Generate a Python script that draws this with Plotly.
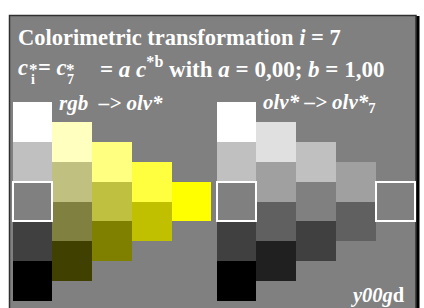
import plotly.graph_objects as go

W, H = 424, 308

# ---- data ----
columns = [0, 1, 2, 3, 4]
left_colors = [
    ["#000000", "#404040", "#808080", "#c0c0c0", "#ffffff"],
    ["#404000", "#808040", "#c0c080", "#ffffc0"],
    ["#808000", "#c0c040", "#ffff80"],
    ["#c0c000", "#ffff40"],
    ["#ffff00"],
]
right_colors = [
    ["#000000", "#404040", "#808080", "#c0c0c0", "#ffffff"],
    ["#202020", "#606060", "#a0a0a0", "#e0e0e0"],
    ["#404040", "#808080", "#c0c0c0"],
    ["#606060", "#a0a0a0"],
    ["#808080"],
]
# outlined cells: (column, row index from bottom)
left_outlined = [(0, 2)]
right_outlined = [(0, 2), (4, 0)]

panel_offsets = [0.0, 5.14]
BG = "#808080"
FONT = "Liberation Serif"

fig = go.Figure()


def add_panel(colors, outlined, offset):
    for c, col in zip(columns, colors):
        n = len(col)
        bases = [c * 0.5 + r for r in range(n)]
        fig.add_trace(go.Bar(
            x=[c + offset] * n, y=[1] * n, base=bases, width=[1] * n,
            marker=dict(color=col, line=dict(width=0)),
            hoverinfo="skip", showlegend=False))
    ox = [c + offset for c, r in outlined]
    ob = [c * 0.5 + r for c, r in outlined]
    fig.add_trace(go.Bar(
        x=ox, y=[1] * len(ox), base=ob, width=[1] * len(ox),
        marker=dict(color="rgba(0,0,0,0)", line=dict(width=2, color="white")),
        hoverinfo="skip", showlegend=False))


add_panel(left_colors, left_outlined, panel_offsets[0])
add_panel(right_colors, right_outlined, panel_offsets[1])

cell = 39.7
umin = -0.82
umax = umin + W / cell
vmin = -0.176
vmax = vmin + H / 39.8


def px(x):
    return x / W


def py(y):
    return 1 - y / H


shapes = [
    dict(type="rect", xref="paper", yref="paper", x0=px(415), x1=px(419.5),
         y0=py(330), y1=py(16), fillcolor="#000000", line=dict(width=0), layer="below"),
    dict(type="rect", xref="paper", yref="paper", x0=px(9.5), x1=px(416),
         y0=py(330), y1=py(15.5), fillcolor=BG, line=dict(width=1.5, color="#303030"),
         layer="below"),
]


def ann(text, x, baseline, fs):
    return dict(text=text, xref="paper", yref="paper", x=px(x), y=py(baseline - 0.34 * fs),
                xanchor="left", yanchor="middle", showarrow=False,
                font=dict(family=FONT, size=fs, color="white"), borderpad=0)


annotations = [
    ann("<b>Colorimetric transformation <i>i</i> = 7</b>", 17, 45, 22.5),
    ann("<b><i>c</i></b>", 17, 75, 22.5),
    ann("<b>*</b>", 28, 75, 17),
    ann("<b>i</b>", 29.5, 84, 14),
    ann("<b>= <i>c</i></b>", 37, 75, 22.5),
    ann("<b>*</b>", 64.5, 75, 17),
    ann("<b>7</b>", 66, 84, 14),
    ann("<b>= <i>a c</i><sup>*b</sup> with <i>a</i> = 0,00; <i>b</i> = 1,00</b>", 99, 75, 23),
    ann("<b><i>rgb&nbsp;&nbsp;–> olv*</i></b>", 58, 110, 21),
    ann("<b><i>olv* –> olv*</i><sub>7</sub></b>", 262, 110, 21),
    ann("<b><i>y00g</i>d</b>", 349, 302, 20.5),
]

fig.update_layout(
    width=W, height=H, autosize=False,
    margin=dict(l=0, r=0, t=0, b=0, pad=0),
    paper_bgcolor="white", plot_bgcolor="rgba(0,0,0,0)",
    barmode="overlay", bargap=0,
    xaxis=dict(range=[umin, umax], visible=False, fixedrange=True),
    yaxis=dict(range=[vmin, vmax], visible=False, fixedrange=True),
    shapes=shapes, annotations=annotations,
)

fig.write_html("out.html", config={"displayModeBar": False},
               post_script="document.body.style.margin='0';")
